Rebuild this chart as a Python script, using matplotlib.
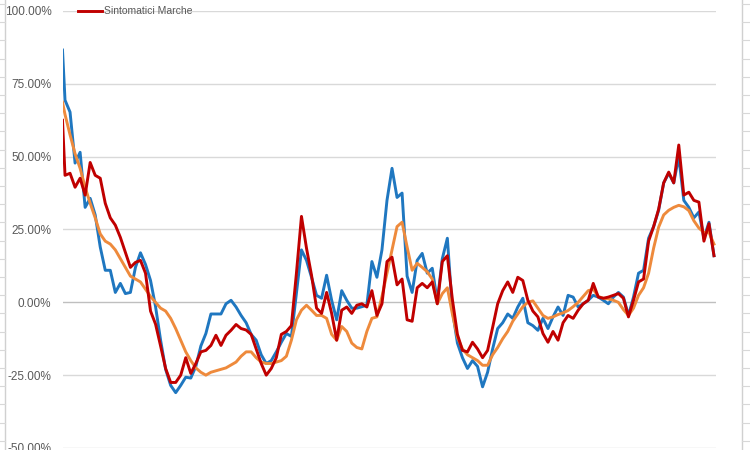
import numpy as np
import matplotlib
matplotlib.use("Agg")
import matplotlib.pyplot as plt
from matplotlib.lines import Line2D

# weekly % change (first sample is half a step before the rest)
blu = [86.6,
       69.4, 65.3, 47.8, 51.5, 32.6, 35.7, 30, 19, 11, 11,
       3.4, 6.5, 3, 3.4, 12, 17, 13, 7.5, -1.5, -13,
       -23, -28.5, -31, -28.5, -25.7, -26, -22, -15, -10.7, -4,
       -4, -4, -0.5, 0.7, -1.6, -4.5, -7, -11, -13, -18,
       -21, -20, -17, -13.7, -10.7, -11.7, 3, 18, 14.4, 8.6,
       2.4, 1.4, 9.3, 0.7, -6, 4, 0.7, -2, -2, -1.5,
       -1, 14, 8.6, 18, 35, 46, 36, 37.5, 9, 3.4,
       14.4, 16.8, 10, 11.7, 0.3, 15, 22, -2.7, -14, -19,
       -22.7, -20, -22, -29, -24, -16, -9, -7, -4, -5.5,
       -1.6, 1.4, -7, -8, -9.6, -5.5, -9, -5, -1.6, -4.5,
       2.4, 1.8, -1.6, -0.5, 0.7, 2.4, 1.8, 0.7, -0.5, 1.8,
       3.4, 1.8, -4.5, 1.8, 10, 11, 22, 26, 31.6, 41,
       44.3, 41, 50, 35, 32.6, 29, 31, 22, 27.5, 16]

media = [68.7,
         64.5, 57.5, 51, 46, 39.5, 34, 29, 23.5, 21, 20,
         18, 15, 12, 9, 8, 7, 4.5, 2, 0, -2,
         -3, -5.5, -9, -13, -17, -20, -22.5, -24, -25, -24,
         -23.5, -23, -22.5, -21.5, -20.5, -18.5, -17, -17, -19, -20.5,
         -21, -21, -20.5, -20, -18.5, -13, -6, -2.7, -1, -2.7,
         -4.5, -4.5, -5.5, -11, -13, -8.3, -10, -14, -15.5, -16,
         -10, -5.5, -5, 2, 10, 18, 26, 27.5, 19, 11,
         13.4, 12, 10.5, 8, -0.5, 3, 5, -4, -12, -16,
         -18, -19, -20, -21.6, -21.6, -18, -15.5, -12.5, -10, -6.5,
         -4, -1.5, 0, 0.5, -2, -4.5, -5.5, -5, -4.2, -3.6,
         -2.8, -1.5, 0, 2, 4, 4.5, 2, 1.4, 1.2, 0.7,
         0, -2.5, -4.5, -2, 2.4, 5, 10, 18.6, 25.8, 30,
         31.6, 32.6, 33.3, 32.8, 31.5, 28, 25.5, 24, 24, 20]

sintomatici = [62.5,
               43.6, 44.3, 39.5, 42.6, 36.8, 48, 43.6, 42.6, 34, 29,
               26.5, 22.3, 17.2, 12, 13.7, 14.4, 10, -3, -7.5, -15,
               -22.7, -27.5, -27.5, -25, -19, -24.4, -21, -17, -16.5, -14.8,
               -11.3, -14.8, -11.3, -9.6, -7.6, -9, -9.5, -11, -16, -21,
               -25, -22.7, -19, -11, -10, -8, 10, 29.5, 18.6, 9.3,
               -2, -3.8, 3.4, -3.8, -13, -2.7, -1.6, -3.8, -1, -0.5,
               -1.6, 4, -4.5, -0.5, 14, 15.5, 6, 8, -6, -6.5,
               5, 6.5, 5, 7, -0.5, 14, 16, 1, -11, -16.5,
               -17, -13.7, -16, -19, -16.5, -8.6, -0.5, 4, 7, 3.4,
               8.6, 7.5, 0.7, -3, -5, -10.7, -13.7, -10, -13, -7,
               -4.5, -5.5, -2.7, -0.5, 0.7, 6.5, 1.8, 1.4, 1.8, 2.4,
               3, 1.4, -5, 0.7, 7, 8, 21, 26, 32, 41,
               44.7, 41, 54, 36.8, 37.8, 35, 34.4, 21, 27, 16]

giorni = np.concatenate([[-0.5], np.arange(len(blu) - 1)])
yticks = [-50, -25, 0, 25, 50, 75, 100]

plt.rcParams['font.family'] = ['Liberation Sans', 'DejaVu Sans']

fig = plt.figure(figsize=(7.5, 4.5), dpi=100)
ax = fig.add_axes([62.5 / 750, 2 / 450, (716 - 62.5) / 750, 437 / 450])

for v in yticks:
    ax.axhline(v, color='#BFBFBF' if v == 0 else '#D9D9D9', lw=1.0, zorder=0)

ax.plot(giorni, blu, color='#1F77C0', lw=2.1, solid_joinstyle='round')
ax.plot(giorni, media, color='#EE8A3C', lw=2.1, solid_joinstyle='round')
ax.plot(giorni, sintomatici, color='#C00000', lw=2.1, solid_joinstyle='round',
        label='Sintomatici Marche')

ax.set_xlim(-0.5, 129.4)
ax.set_ylim(-50, 100)
ax.set_xticks([])
ax.set_yticks(yticks)
ax.set_yticklabels([f"{v:.2f}%" for v in yticks], fontsize=8.5, color='#595959')
ax.tick_params(axis='y', length=0, pad=8)
for s in ax.spines.values():
    s.set_visible(False)

leg = ax.legend(loc='upper left', bbox_to_anchor=(74 / 750, 1 - 2 / 450),
                bbox_transform=fig.transFigure, frameon=False, fontsize=7.5,
                handlelength=2.3, handletextpad=0.15, borderaxespad=0)
for t in leg.get_texts():
    t.set_color('#595959')

# spreadsheet cell borders peeking out at the sides
fig.add_artist(Line2D([5 / 750, 5 / 750], [0, 1], color='#D0D0D0', lw=1))
fig.add_artist(Line2D([742 / 750, 742 / 750], [0, 1], color='#D0D0D0', lw=1))
for yy in np.arange(4, 450, 18.2):
    fig.add_artist(Line2D([0, 5 / 750], [1 - yy / 450] * 2, color='#D8D8D8', lw=0.8))
    fig.add_artist(Line2D([742 / 750, 1], [1 - yy / 450] * 2, color='#D8D8D8', lw=0.8))

fig.savefig('out.png', dpi=100)
